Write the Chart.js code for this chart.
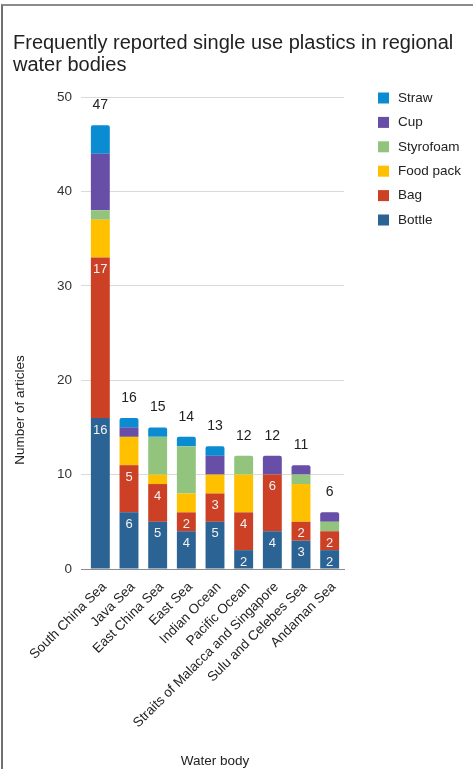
<!DOCTYPE html>
<html>
<head>
<meta charset="utf-8">
<title>Single use plastics by water body</title>
<script src="https://cdn.jsdelivr.net/npm/chart.js@4/dist/chart.umd.min.js"></script>
<style>
  body { margin: 0; background: #fff; }
  #wrap { position: relative; width: 473px; height: 769px; overflow: hidden; }
  #frame {
    position: absolute; left: 1px; top: 4px; width: 600px; height: 900px;
    border-top: 2px solid #8c8c8c; border-left: 2px solid #707070;
    pointer-events: none;
  }
</style>
</head>
<body>
<div id="wrap">
  <canvas id="plasticsChart" width="473" height="769"></canvas>
  <div id="frame"></div>
</div>
<script>
// Data per water body (number of articles)
const waterBodies = ['South China Sea', 'Java Sea', 'East China Sea', 'East Sea', 'Indian Ocean',
  'Pacific Ocean', 'Straits of Malacca and Singapore', 'Sulu and Celebes Sea', 'Andaman Sea'];
const bottle    = [16, 6, 5, 4, 5, 2, 4, 3, 2];
const bag       = [17, 5, 4, 2, 3, 4, 6, 2, 2];
const foodPack  = [4, 3, 1, 2, 2, 4, 0, 4, 0];
const styrofoam = [1, 0, 4, 5, 0, 2, 0, 1, 1];
const cup       = [6, 1, 0, 0, 2, 0, 2, 1, 1];
const straw     = [3, 1, 1, 1, 1, 0, 0, 0, 0];
const yTicks    = [0, 10, 20, 30, 40, 50];

const titleLines = ['Frequently reported single use plastics in regional', 'water bodies'];

const FONT = '"Liberation Sans", Arial, sans-serif';
Chart.defaults.font.family = FONT;
Chart.defaults.color = '#222';

const series = [
  { label: 'Bottle',    data: bottle,    color: '#2c6395', labelled: true },
  { label: 'Bag',       data: bag,       color: '#cc4125', labelled: true },
  { label: 'Food pack', data: foodPack,  color: '#ffc000' },
  { label: 'Styrofoam', data: styrofoam, color: '#93c47d' },
  { label: 'Cup',       data: cup,       color: '#674ea7' },
  { label: 'Straw',     data: straw,     color: '#0a8bd2' }
];

const totals = waterBodies.map((_, i) => series.reduce((s, d) => s + d.data[i], 0));

// index of the highest non-empty segment in each stack (gets rounded corners)
const topSeries = waterBodies.map((_, i) => {
  let top = 0;
  series.forEach((s, di) => { if (s.data[i] > 0) top = di; });
  return top;
});

// numbers inside Bottle/Bag segments + stack totals on top
const valueLabels = {
  id: 'valueLabels',
  afterDatasetsDraw(chart) {
    const ctx = chart.ctx;
    ctx.save();
    ctx.textAlign = 'center';
    ctx.textBaseline = 'middle';
    ctx.font = '13px ' + FONT;
    ctx.fillStyle = '#f2f2f2';
    series.forEach((s, di) => {
      if (!s.labelled) return;
      chart.getDatasetMeta(di).data.forEach((bar, i) => {
        if (!s.data[i]) return;
        ctx.fillText(String(s.data[i]), bar.x, bar.y + 12);
      });
    });
    ctx.font = '14px ' + FONT;
    ctx.fillStyle = '#222';
    const y = chart.scales.y;
    totals.forEach((t, i) => {
      const x = chart.getDatasetMeta(0).data[i].x;
      ctx.fillText(String(t), x, y.getPixelForValue(t) - 20);
    });
    ctx.restore();
  }
};

// title, legend on the right and the y axis title
const sideText = {
  id: 'sideText',
  afterDraw(chart) {
    const ctx = chart.ctx;
    const area = chart.chartArea;
    ctx.save();
    ctx.fillStyle = '#222';
    ctx.textAlign = 'left';
    ctx.textBaseline = 'alphabetic';
    ctx.font = '20px ' + FONT;
    titleLines.forEach((line, i) => ctx.fillText(line, 13, 49 + i * 21.6));

    ctx.font = '13.5px ' + FONT;
    ctx.textBaseline = 'middle';
    series.slice().reverse().forEach((s, i) => {
      const cy = area.top + 1 + i * 24.4;
      ctx.fillStyle = s.color;
      ctx.fillRect(area.right + 34, cy - 5.5, 11, 11);
      ctx.fillStyle = '#222';
      ctx.fillText(s.label, area.right + 54, cy);
    });

    ctx.translate(20, 410);
    ctx.rotate(-Math.PI / 2);
    ctx.textAlign = 'center';
    ctx.fillText('Number of articles', 0, 0);
    ctx.restore();
  }
};

const ctx = document.getElementById('plasticsChart').getContext('2d');
new Chart(ctx, {
  type: 'bar',
  data: {
    labels: waterBodies,
    datasets: series.map((s, di) => ({
      label: s.label,
      data: s.data,
      backgroundColor: s.color,
      borderWidth: 0,
      borderSkipped: false,
      borderRadius: c => topSeries[c.dataIndex] === di
        ? { topLeft: 2, topRight: 2, bottomLeft: 0, bottomRight: 0 } : 0,
      barPercentage: 0.66,
      categoryPercentage: 1
    }))
  },
  options: {
    responsive: false,
    animation: false,
    layout: { padding: { left: 13, right: 129, top: 97, bottom: 0 } },
    plugins: {
      legend: { display: false },
      tooltip: { enabled: false },
      title: { display: false }
    },
    scales: {
      x: {
        stacked: true,
        grid: { display: false, drawTicks: false },
        border: { color: '#8c8c8c' },
        ticks: {
          autoSkip: false,
          minRotation: 45,
          maxRotation: 45,
          padding: 10,
          labelOffset: 4,
          color: '#222',
          font: { size: 13.5 }
        },
        title: {
          display: true,
          text: 'Water body',
          color: '#222',
          font: { size: 13.5 },
          padding: { top: 0, bottom: 0 }
        },
        afterFit(scale) { scale.height = 200; }
      },
      y: {
        stacked: true,
        min: 0,
        max: 50,
        border: { display: false },
        grid: {
          color: c => (c.tick && c.tick.value === 0) ? '#8c8c8c' : '#dadada',
          tickLength: 5
        },
        afterBuildTicks(scale) { scale.ticks = yTicks.map(v => ({ value: v })); },
        ticks: { padding: 9, color: '#333', font: { size: 13.5 } },
        afterFit(scale) { scale.width = 73; }
      }
    }
  },
  plugins: [valueLabels, sideText]
});
</script>
</body>
</html>
